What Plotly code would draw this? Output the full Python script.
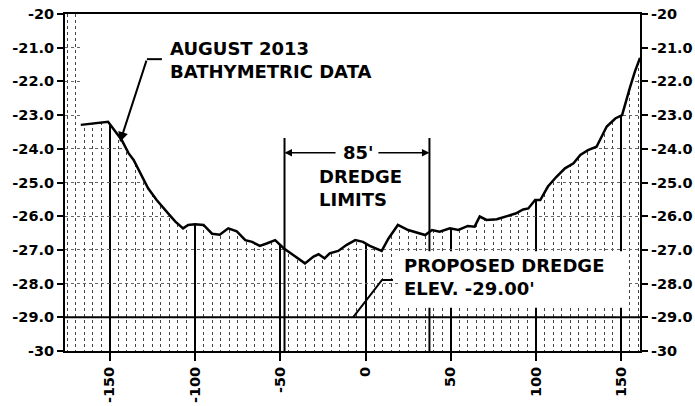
import plotly.graph_objects as go

# ---- data ----
station = [-167, -151, -143, -139, -136, -131, -127.5, -122.5, -118.5, -114.5, -111.5,
           -107, -104, -100, -95, -90, -85.5, -80.5, -75.5, -70.5, -66.5, -62, -58, -53,
           -48, -42.5, -35.5, -30.5, -27.5, -24, -21, -16, -11, -6, -1.5, 2.5, 9.5, 13.5,
           19, 25, 31, 35, 39, 43.5, 49.5, 54.5, 60, 64, 67, 71, 77, 83, 88, 92.5, 95.5,
           99.5, 102.5, 107, 112, 117, 122, 126, 130.5, 135.5, 141.5, 146.5, 150.5, 155,
           158, 161]
elevation = [-23.29, -23.2, -23.74, -24.13, -24.33, -24.83, -25.17, -25.52, -25.77, -25.99,
             -26.16, -26.36, -26.26, -26.24, -26.26, -26.52, -26.55, -26.36, -26.45, -26.71,
             -26.76, -26.88, -26.81, -26.71, -26.95, -27.15, -27.4, -27.2, -27.13, -27.25,
             -27.1, -27.03, -26.85, -26.71, -26.76, -26.88, -27.03, -26.66, -26.26, -26.41,
             -26.51, -26.56, -26.41, -26.46, -26.36, -26.41, -26.29, -26.31, -26.01, -26.11,
             -26.09, -25.99, -25.92, -25.8, -25.77, -25.52, -25.52, -25.12, -24.83, -24.58,
             -24.43, -24.18, -24.04, -23.94, -23.34, -23.1, -23.0, -22.2, -21.71, -21.3]

x_ticks = [-150, -100, -50, 0, 50, 100, 150]
x_ticktext = ["-150", "-100", "-50", "0", "50", "100", "150"]
y_ticks = [-20, -21, -22, -23, -24, -25, -26, -27, -28, -29, -30]
y_ticktext = ["-20", "-21.0", "-22.0", "-23.0", "-24.0", "-25.0", "-26.0", "-27.0",
              "-28.0", "-29.0", "-30"]

dredge_left = -47.5
dredge_right = 37.5
dredge_elev = -29.0
x_range = [-176.25, 161]

FONT = "DejaVu Sans"
fig = go.Figure()

# white mask above the ground line (grid shows only below it)
fig.add_trace(go.Scatter(x=station, y=[-20] * len(station), mode="lines",
                         line=dict(width=0, color="white"), hoverinfo="skip",
                         showlegend=False))
fig.add_trace(go.Scatter(x=station, y=elevation, mode="lines", fill="tonexty",
                         fillcolor="white", line=dict(color="black", width=2.5),
                         showlegend=False))
# invisible trace so the right-hand axis is drawn
fig.add_trace(go.Scatter(x=station, y=elevation, yaxis="y2", mode="lines",
                         line=dict(width=0, color="rgba(0,0,0,0)"), hoverinfo="skip",
                         showlegend=False))

shapes = []
shapes.append(dict(type="line", xref="x", x0=x_range[0], x1=x_range[1], yref="y",
                   y0=dredge_elev, y1=dredge_elev, line=dict(color="black", width=2)))
for xv in (dredge_left, dredge_right):
    shapes.append(dict(type="line", x0=xv, x1=xv, y0=-30, y1=-23.68,
                       line=dict(color="black", width=2)))
shapes.append(dict(type="rect", x0=19.1, x1=154, y0=-28.72, y1=-27.04,
                   fillcolor="white", line=dict(width=0)))
shapes.append(dict(type="line", x0=-119.4, x1=-128.2, y0=-21.34, y1=-21.34,
                   line=dict(color="black", width=2)))
shapes.append(dict(type="path", path="M 16.1 -27.89 L 9.7 -27.89 L -7.3 -29",
                   line=dict(color="black", width=2)))

afont = dict(family=FONT, size=18, color="black", weight="bold")
annotations = [
    dict(x=-115.8, y=-20.65, xanchor="left", yanchor="top", align="left",
         text="AUGUST 2013<br>BATHYMETRIC DATA", showarrow=False, font=afont),
    dict(x=-144, y=-23.8, ax=-128.2, ay=-21.34, axref="x", ayref="y", text="",
         showarrow=True, arrowhead=2, arrowsize=1, arrowwidth=2, arrowcolor="black"),
    dict(x=-4.4, y=-24.12, xanchor="center", yanchor="middle", text="85'",
         showarrow=False, font=afont),
    dict(x=dredge_left, y=-24.12, ax=-16.7, ay=-24.12, axref="x", ayref="y", text="",
         showarrow=True, arrowhead=2, arrowsize=1, arrowwidth=1.5, arrowcolor="black"),
    dict(x=dredge_right, y=-24.12, ax=6.7, ay=-24.12, axref="x", ayref="y", text="",
         showarrow=True, arrowhead=2, arrowsize=1, arrowwidth=1.5, arrowcolor="black"),
    dict(x=-28.4, y=-24.45, xanchor="left", yanchor="top", align="left",
         text="DREDGE<br>LIMITS", showarrow=False, font=afont),
    dict(x=21.4, y=-27.09, xanchor="left", yanchor="top", align="left",
         text="PROPOSED DREDGE<br>ELEV. -29.00'", showarrow=False, font=afont),
]

tickfont = dict(family=FONT, size=14.5, color="black", weight="bold")
yaxis_common = dict(range=[-30, -20], autorange=False, tickvals=y_ticks,
                    ticktext=y_ticktext, automargin=False,
                    showline=True, linecolor="black", linewidth=2, ticks="outside",
                    ticklen=6, tickwidth=1.5, tickcolor="black", zeroline=False,
                    tickfont=tickfont)

fig.update_layout(
    width=695, height=406,
    margin=dict(l=65, r=55, t=14, b=55, autoexpand=False),
    paper_bgcolor="white", plot_bgcolor="white",
    showlegend=False,
    xaxis=dict(range=x_range, autorange=False, tickvals=x_ticks, ticktext=x_ticktext,
               tickangle=-90, automargin=False,
               showline=True, linecolor="black", linewidth=2, mirror=True,
               ticks="outside", ticklen=8, tickwidth=1.5, tickcolor="black",
               showgrid=True, gridcolor="black", gridwidth=1.5, zeroline=False,
               tickfont=tickfont,
               minor=dict(dtick=5, tick0=0, showgrid=True, gridcolor="#444444",
                          griddash="dot", gridwidth=1, ticks="")),
    yaxis=dict(**yaxis_common, showgrid=True, gridcolor="#666666", griddash="dot",
               gridwidth=1),
    yaxis2=dict(**yaxis_common, overlaying="y", side="right", showgrid=False),
    shapes=shapes,
    annotations=annotations,
)

fig.write_html("out.html", config={"displayModeBar": False},
               post_script="document.body.style.margin='0';document.body.style.overflow='hidden';")
